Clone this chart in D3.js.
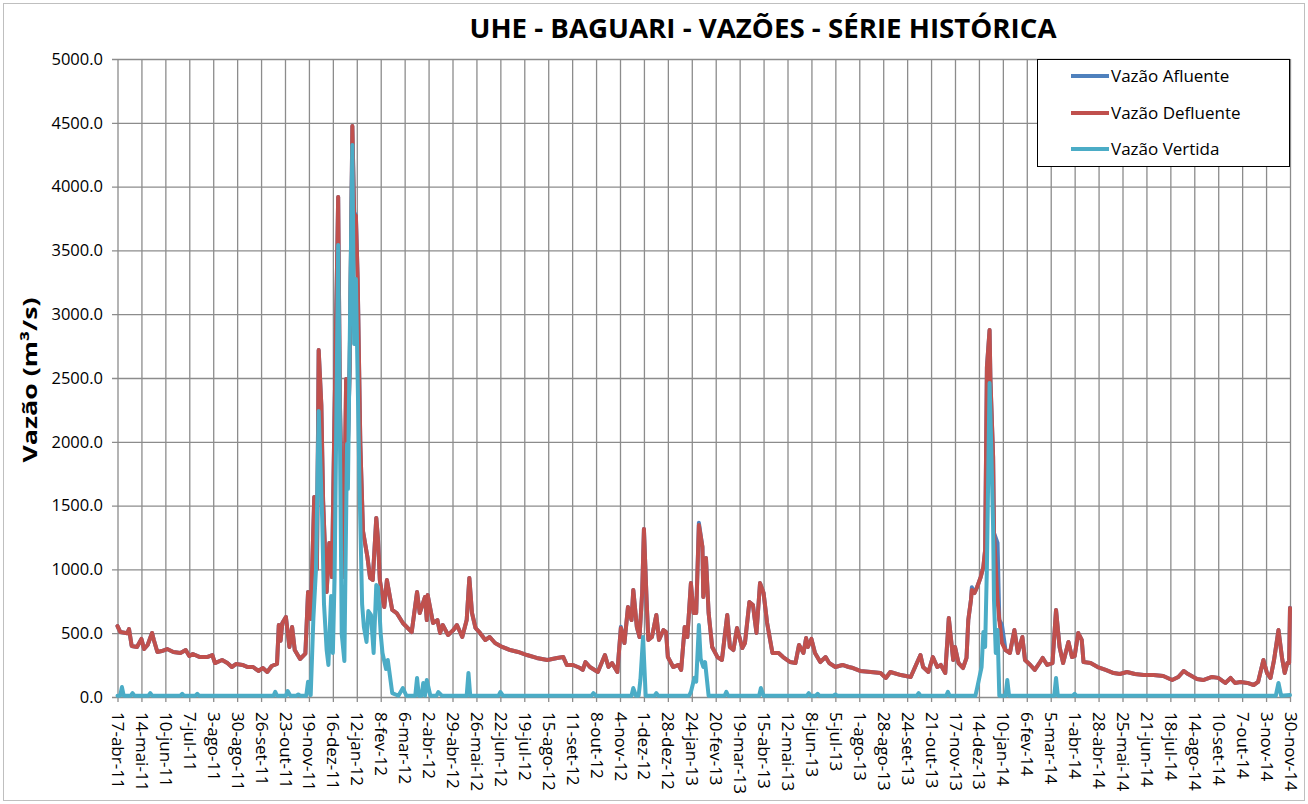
<!DOCTYPE html>
<html lang="pt">
<head>
<meta charset="utf-8">
<script src="https://cdn.jsdelivr.net/npm/d3@7"></script>
<style>
  body { margin: 0; background: #fff; }
  text { font-family: "Open Sans", sans-serif; fill: #000; }
</style>
</head>
<body>
<script>

// dias amostrados (vazão afluente e defluente)
var datas = [
  "2011-04-17","2011-04-20","2011-04-28","2011-04-30","2011-05-03","2011-05-09","2011-05-14","2011-05-17","2011-05-21","2011-05-26",
  "2011-05-28","2011-06-01","2011-06-06","2011-06-12","2011-06-19","2011-06-27","2011-07-03","2011-07-07","2011-07-11","2011-07-19",
  "2011-07-27","2011-08-02","2011-08-05","2011-08-13","2011-08-19","2011-08-24","2011-08-29","2011-09-05","2011-09-11","2011-09-17",
  "2011-09-23","2011-09-28","2011-10-03","2011-10-08","2011-10-14","2011-10-16","2011-10-18","2011-10-20","2011-10-24","2011-10-28",
  "2011-10-31","2011-11-03","2011-11-09","2011-11-15","2011-11-18","2011-11-21","2011-11-25","2011-11-28","2011-11-30","2011-12-03",
  "2011-12-05","2011-12-09","2011-12-12","2011-12-15","2011-12-17","2011-12-22","2011-12-24","2011-12-28","2011-12-31","2012-01-02",
  "2012-01-04","2012-01-07","2012-01-09","2012-01-11","2012-01-13","2012-01-16","2012-01-19","2012-01-24","2012-01-27","2012-01-30",
  "2012-02-03","2012-02-05","2012-02-07","2012-02-12","2012-02-15","2012-02-21","2012-02-26","2012-03-04","2012-03-14","2012-03-20",
  "2012-03-23","2012-03-29","2012-03-31","2012-04-01","2012-04-07","2012-04-12","2012-04-15","2012-04-18","2012-04-24","2012-04-30",
  "2012-05-04","2012-05-10","2012-05-15","2012-05-18","2012-05-21","2012-05-25","2012-05-30","2012-06-05","2012-06-10","2012-06-16",
  "2012-06-24","2012-07-03","2012-07-12","2012-07-22","2012-08-02","2012-08-14","2012-08-25","2012-09-01","2012-09-05","2012-09-12",
  "2012-09-20","2012-09-23","2012-09-26","2012-10-01","2012-10-10","2012-10-18","2012-10-22","2012-10-26","2012-11-01","2012-11-05",
  "2012-11-09","2012-11-13","2012-11-17","2012-11-19","2012-11-23","2012-11-26","2012-11-29","2012-12-01","2012-12-04","2012-12-06",
  "2012-12-10","2012-12-15","2012-12-18","2012-12-23","2012-12-26","2012-12-28","2013-01-03","2013-01-09","2013-01-12","2013-01-16",
  "2013-01-19","2013-01-23","2013-01-26","2013-01-29","2013-02-01","2013-02-05","2013-02-06","2013-02-09","2013-02-12","2013-02-16",
  "2013-02-22","2013-02-27","2013-03-05","2013-03-08","2013-03-12","2013-03-16","2013-03-22","2013-03-25","2013-03-30","2013-04-03",
  "2013-04-07","2013-04-11","2013-04-15","2013-04-19","2013-04-25","2013-05-02","2013-05-07","2013-05-15","2013-05-21","2013-05-25",
  "2013-05-30","2013-06-02","2013-06-04","2013-06-08","2013-06-12","2013-06-18","2013-06-24","2013-06-28","2013-07-05","2013-07-13",
  "2013-07-20","2013-07-25","2013-08-02","2013-08-14","2013-08-25","2013-08-31","2013-09-05","2013-09-17","2013-09-28","2013-10-03",
  "2013-10-09","2013-10-12","2013-10-18","2013-10-23","2013-10-28","2013-11-01","2013-11-06","2013-11-10","2013-11-15","2013-11-17",
  "2013-11-21","2013-11-26","2013-11-30","2013-12-02","2013-12-05","2013-12-06","2013-12-09","2013-12-12","2013-12-16","2013-12-19",
  "2013-12-21","2013-12-23","2013-12-26","2013-12-27","2013-12-30","2013-12-31","2014-01-04","2014-01-06","2014-01-09","2014-01-13",
  "2014-01-18","2014-01-23","2014-01-27","2014-02-01","2014-02-04","2014-02-10","2014-02-15","2014-02-21","2014-02-24","2014-03-01",
  "2014-03-07","2014-03-11","2014-03-15","2014-03-19","2014-03-25","2014-03-29","2014-04-01","2014-04-05","2014-04-09","2014-04-11",
  "2014-04-19","2014-04-27","2014-05-06","2014-05-15","2014-05-22","2014-05-30","2014-06-08","2014-06-18","2014-06-29","2014-07-10",
  "2014-07-20","2014-07-27","2014-08-02","2014-08-07","2014-08-17","2014-08-24","2014-09-03","2014-09-10","2014-09-18","2014-09-24",
  "2014-09-29","2014-10-05","2014-10-13","2014-10-20","2014-10-25","2014-10-31","2014-11-04","2014-11-08","2014-11-12","2014-11-17",
  "2014-11-21","2014-11-24","2014-11-27","2014-11-29","2014-11-30"
];

var vazaoAfluente = [
  556,510,500,533,400,392,455,376,408,502,
  447,353,360,376,353,345,368,321,337,313,
  313,329,266,290,266,235,259,251,235,235,
  204,227,196,243,259,564,440,580,627,392,
  549,368,298,340,823,611,1567,1003,2719,2288,
  1536,823,1207,940,1834,3918,2288,940,2492,1983,
  2586,4475,3800,3770,3276,1983,1300,1097,933,917,
  1403,1230,917,705,917,682,658,580,509,823,
  658,784,603,799,580,603,502,564,486,525,
  564,470,603,933,658,541,502,447,470,423,
  392,368,353,329,306,290,306,313,251,251,
  227,212,274,235,196,329,235,266,196,550,
  423,705,603,839,549,470,815,1317,760,447,
  470,643,447,525,509,313,235,251,212,549,
  470,893,658,658,1365,1176,784,1089,658,392,
  313,290,643,392,368,541,384,423,744,721,
  502,893,815,580,345,345,313,274,266,408,
  345,462,392,455,345,274,313,266,235,251,
  235,227,204,196,188,149,196,172,157,235,
  329,235,196,313,235,251,188,619,290,392,
  266,227,306,603,760,860,815,862,940,1019,
  1152,2586,2876,2484,1881,1285,1207,603,564,368,
  345,525,345,470,290,251,212,274,306,251,
  266,682,392,266,431,313,320,502,447,274,
  266,235,212,188,180,196,180,172,172,165,
  133,157,204,180,141,133,157,150,110,149,
  110,118,110,94,118,290,188,149,290,525,
  306,188,266,266,700
];

var vazaoDefluente = [
  556,510,500,533,400,392,455,376,408,502,
  447,353,360,376,353,345,368,321,337,313,
  313,329,266,290,266,235,259,251,235,235,
  204,227,196,243,259,564,440,580,627,392,
  549,368,298,340,823,611,1567,1003,2719,2288,
  1536,823,1207,940,1834,3918,2288,940,2492,1983,
  2586,4475,3785,3770,3276,1983,1300,1097,933,917,
  1403,1230,917,705,917,682,658,580,509,823,
  658,784,603,799,580,603,502,564,486,525,
  564,470,603,933,658,541,502,447,470,423,
  392,368,353,329,306,290,306,313,251,251,
  227,212,274,235,196,329,235,266,196,541,
  423,705,603,839,549,470,815,1317,760,447,
  470,643,447,525,509,313,235,251,212,549,
  470,893,658,658,1348,1176,784,1089,658,392,
  313,290,643,392,368,541,384,423,744,721,
  502,893,815,580,345,345,313,274,266,408,
  345,462,392,455,345,274,313,266,235,251,
  235,227,204,196,188,149,196,172,157,235,
  329,235,196,313,235,251,188,619,290,392,
  266,227,306,603,760,839,815,862,940,1019,
  1152,2586,2876,2484,1881,1285,760,603,423,368,
  345,525,345,470,290,251,212,274,306,251,
  266,682,392,266,431,313,320,502,447,274,
  266,235,212,188,180,196,180,172,172,165,
  133,157,204,180,141,133,157,150,110,149,
  110,118,110,94,118,290,188,149,290,525,
  306,188,266,266,697
];

// dias amostrados (vazão vertida)
var datasVertida = [
  "2011-04-17","2011-04-20","2011-04-22","2011-04-24","2011-05-02","2011-05-04","2011-05-06","2011-05-22","2011-05-24","2011-05-26",
  "2011-06-27","2011-06-29","2011-07-01","2011-07-14","2011-07-16","2011-07-18","2011-10-10","2011-10-12","2011-10-14","2011-10-24",
  "2011-10-26","2011-10-29","2011-11-05","2011-11-07","2011-11-09","2011-11-16","2011-11-18","2011-11-21","2011-11-24","2011-11-27",
  "2011-11-30","2011-12-04","2011-12-06","2011-12-09","2011-12-11","2011-12-14","2011-12-16","2011-12-18","2011-12-22","2011-12-24",
  "2011-12-26","2011-12-29","2012-01-01","2012-01-02","2012-01-04","2012-01-07","2012-01-09","2012-01-11","2012-01-12","2012-01-15",
  "2012-01-18","2012-01-20","2012-01-23","2012-01-25","2012-01-28","2012-01-31","2012-02-03","2012-02-05","2012-02-08","2012-02-10",
  "2012-02-14","2012-02-16","2012-02-21","2012-02-28","2012-03-04","2012-03-08","2012-03-18","2012-03-20","2012-03-22","2012-03-25",
  "2012-03-27","2012-03-29","2012-03-31","2012-04-04","2012-04-11","2012-04-13","2012-04-17","2012-05-15","2012-05-17","2012-05-19",
  "2012-06-20","2012-06-22","2012-06-25","2012-10-03","2012-10-05","2012-10-08","2012-11-17","2012-11-19","2012-11-22","2012-11-25",
  "2012-11-27","2012-11-30","2012-12-03","2012-12-13","2012-12-15","2012-12-17","2013-01-21","2013-01-23","2013-01-27","2013-01-29",
  "2013-02-01","2013-02-03","2013-02-06","2013-02-08","2013-02-12","2013-03-02","2013-03-04","2013-03-06","2013-04-10","2013-04-12",
  "2013-04-15","2013-06-03","2013-06-05","2013-06-07","2013-06-13","2013-06-15","2013-06-17","2013-07-03","2013-07-05","2013-07-07",
  "2013-10-05","2013-10-07","2013-10-09","2013-11-07","2013-11-09","2013-11-11","2013-12-10","2013-12-12","2013-12-17","2013-12-19",
  "2013-12-21","2013-12-23","2013-12-26","2013-12-28","2013-12-30","2013-12-31","2014-01-02","2014-01-04","2014-01-06","2014-01-13",
  "2014-01-15","2014-01-17","2014-03-09","2014-03-11","2014-03-13","2014-03-30","2014-04-01","2014-04-03","2014-11-14","2014-11-17",
  "2014-11-20","2014-11-30"
];

var vazaoVertida = [
  10,10,78,10,10,30,10,10,30,10,
  10,25,10,10,25,10,10,40,10,10,
  47,10,10,20,10,10,120,15,611,1003,
  2241,1387,729,368,251,791,345,940,3542,2045,
  494,282,1983,1630,2766,4326,2766,3276,2884,1685,
  729,549,431,674,643,345,878,862,494,345,
  219,290,31,10,70,10,10,149,10,10,
  110,10,133,10,10,39,10,10,188,10,
  10,39,10,10,30,10,10,70,10,10,
  133,470,10,10,30,10,10,40,150,120,
  564,300,235,274,10,10,40,10,10,70,
  10,10,30,10,10,25,10,10,20,10,
  10,30,10,10,40,10,10,70,235,509,
  392,1019,2461,1936,1332,760,345,525,10,10,
  133,10,10,149,10,10,25,10,10,110,
  10,15
];

var rotulosX = [
  "17-abr-11","14-mai-11","10-jun-11","7-jul-11","3-ago-11","30-ago-11","26-set-11","23-out-11","19-nov-11","16-dez-11",
  "12-jan-12","8-fev-12","6-mar-12","2-abr-12","29-abr-12","26-mai-12","22-jun-12","19-jul-12","15-ago-12","11-set-12",
  "8-out-12","4-nov-12","1-dez-12","28-dez-12","24-jan-13","20-fev-13","19-mar-13","15-abr-13","12-mai-13","8-jun-13",
  "5-jul-13","1-ago-13","28-ago-13","24-set-13","21-out-13","17-nov-13","14-dez-13","10-jan-14","6-fev-14","5-mar-14",
  "1-abr-14","28-abr-14","25-mai-14","21-jun-14","18-jul-14","14-ago-14","10-set-14","7-out-14","3-nov-14","30-nov-14"
];

var ticksY = [0, 500, 1000, 1500, 2000, 2500, 3000, 3500, 4000, 4500, 5000];

var series = [
  {nome: "Vazão Afluente",  cor: "#4f81bd"},
  {nome: "Vazão Defluente", cor: "#c0504d"},
  {nome: "Vazão Vertida",   cor: "#4bacc6"}
];

var outerWidth = 1308, outerHeight = 804;
var margin = {top: 59, right: 18, bottom: 107, left: 112};
var width = outerWidth - margin.left - margin.right,
    height = outerHeight - margin.top - margin.bottom;

var parseData = d3.utcParse("%Y-%m-%d");
var meses = {jan:0, fev:1, mar:2, abr:3, mai:4, jun:5, jul:6, ago:7, set:8, out:9, nov:10, dez:11};
var tickDates = rotulosX.map(function(s){
  var p = s.split("-");
  return new Date(Date.UTC(2000 + (+p[2]), meses[p[1]], +p[0]));
});

var svg = d3.select("body").append("svg")
  .attr("width", outerWidth)
  .attr("height", outerHeight);

svg.append("rect")
  .attr("x", 3.5).attr("y", 3.5)
  .attr("width", outerWidth - 7).attr("height", outerHeight - 7)
  .attr("fill", "#fff").attr("stroke", "#bfbfbf");

var g = svg.append("g")
  .attr("transform", "translate(" + margin.left + "," + margin.top + ")");

var x = d3.scaleUtc()
  .domain([tickDates[0], tickDates[tickDates.length - 1]])
  .range([5.5, width]);
var y = d3.scaleLinear().domain([0, 5000]).range([height, 0]);

// grade horizontal + rótulos do eixo y
var yAxis = g.append("g")
  .call(d3.axisLeft(y).tickValues(ticksY).tickSize(-width).tickPadding(9)
    .tickFormat(d3.format(".1f")));
yAxis.select(".domain").remove();
yAxis.selectAll("line").attr("stroke", "#8c8c8c").attr("stroke-width", 1.3);
yAxis.selectAll("text").style("font-size", "16.5px").style("font-family", "Open Sans");

// grade vertical + rótulos de data
var xAxis = g.append("g")
  .attr("transform", "translate(0," + height + ")")
  .call(d3.axisBottom(x).tickValues(tickDates).tickSize(-height)
    .tickFormat(function(d, i){ return rotulosX[i]; }));
xAxis.select(".domain").remove();
xAxis.selectAll("line").attr("y1", 5).attr("stroke", "#8c8c8c").attr("stroke-width", 1.3);
xAxis.selectAll("text")
  .attr("transform", "rotate(90)")
  .attr("x", 15).attr("y", 0).attr("dy", "0.35em")
  .style("text-anchor", "start")
  .style("font-size", "17px").style("font-family", "Open Sans");

var linha = d3.line()
  .x(function(d){ return x(d.data); })
  .y(function(d){ return y(d.v); });

function pontos(ds, vs){
  return ds.map(function(d, i){ return {data: parseData(d), v: vs[i]}; });
}

var dadosSeries = [
  pontos(datas, vazaoAfluente),
  pontos(datas, vazaoDefluente),
  pontos(datasVertida, vazaoVertida)
];

dadosSeries.forEach(function(dd, i){
  g.append("path")
    .datum(dd)
    .attr("fill", "none")
    .attr("stroke", series[i].cor)
    .attr("stroke-width", 4)
    .attr("stroke-linejoin", "round")
    .attr("stroke-linecap", "round")
    .attr("d", linha);
});

// título
svg.append("text")
  .attr("x", 763).attr("y", 38)
  .attr("text-anchor", "middle")
  .attr("textLength", 587).attr("lengthAdjust", "spacingAndGlyphs")
  .style("font-size", "26px").style("font-weight", "bold")
  .text("UHE - BAGUARI - VAZÕES - SÉRIE HISTÓRICA");

// título do eixo y
svg.append("text")
  .attr("transform", "translate(30,380) rotate(-90)")
  .attr("text-anchor", "middle").attr("dy", "0.35em")
  .attr("textLength", 165).attr("lengthAdjust", "spacingAndGlyphs")
  .style("font-size", "20px").style("font-weight", "bold")
  .text("Vazão (m³/s)");

// legenda
var leg = svg.append("g");
leg.append("rect")
  .attr("x", 1037.5).attr("y", 59.5)
  .attr("width", 252).attr("height", 107)
  .attr("fill", "#fff").attr("stroke", "#000");
var itens = leg.selectAll("g.item").data(series).enter().append("g")
  .attr("class", "item")
  .attr("transform", function(d, i){ return "translate(0," + [76, 113, 149][i] + ")"; });
itens.append("line")
  .attr("x1", 1071).attr("x2", 1109)
  .attr("stroke", function(d){ return d.cor; })
  .attr("stroke-width", 4);
itens.append("text")
  .attr("x", 1111).attr("dy", "0.35em")
  .style("font-size", "17px")
  .text(function(d){ return d.nome; });

</script>
</body>
</html>
